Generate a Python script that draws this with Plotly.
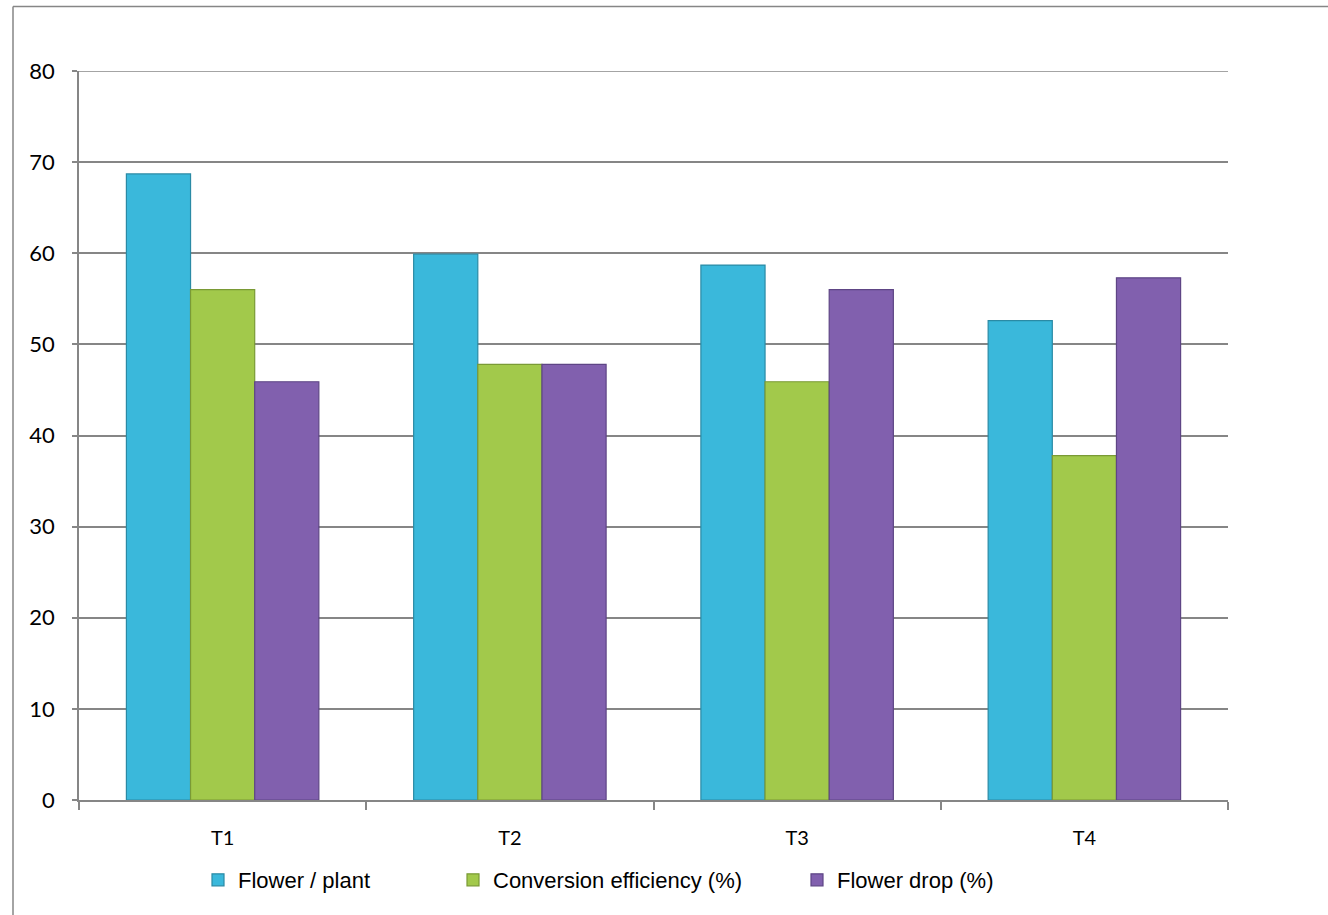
import plotly.graph_objects as go

categories = ["T1", "T2", "T3", "T4"]
flower_per_plant = [68.7, 59.9, 58.7, 52.6]
conversion_eff = [56.0, 47.8, 45.9, 37.8]
flower_drop = [45.9, 47.8, 56.0, 57.3]
series_names = ["Flower / plant", "Conversion efficiency (%)", "Flower drop (%)"]
y_ticks = [0, 10, 20, 30, 40, 50, 60, 70, 80]

W, H = 1328, 915
ml, mr, mt, mb = 79, 100, 71, 115
pw, ph = W - ml - mr, H - mt - mb

colors = ["#3AB8DB", "#A2C94B", "#8160AE"]
lines = ["#2A8AA5", "#7A9A35", "#5E4585"]
legend_ids = ["legend", "legend2", "legend3"]
legend_text_px = [238, 493, 837]


def px_x(p):
    return (p - ml) / pw


def px_y(p):
    return (H - mb - p) / ph


fig = go.Figure()
for name, vals, c, lc, lid in zip(series_names, [flower_per_plant, conversion_eff, flower_drop],
                                  colors, lines, legend_ids):
    fig.add_trace(go.Bar(x=categories, y=vals, name=name, legend=lid,
                         marker=dict(color=c, line=dict(color=lc, width=1.2))))

leg_font = dict(family="Liberation Sans, Arial, sans-serif", size=22, color="black")
legends = {}
for lid, tx in zip(legend_ids, legend_text_px):
    legends[lid] = dict(orientation="h", x=px_x(tx - 40), xanchor="left", y=px_y(880), yanchor="middle",
                        font=leg_font, itemwidth=30, bgcolor="rgba(0,0,0,0)")

fig.update_layout(
    width=W, height=H,
    margin=dict(l=ml, r=mr, t=mt, b=mb),
    paper_bgcolor="white", plot_bgcolor="white",
    barmode="group", bargap=0.33, bargroupgap=0,
    font=dict(family="Lato, Open Sans, sans-serif", size=16, color="black"),
    showlegend=True,
    xaxis=dict(showline=True, linecolor="#868686", linewidth=1.5, ticks="outside",
               tickson="boundaries", ticklen=8, tickcolor="#868686", tickwidth=1.5,
               showgrid=False, tickfont=dict(family="Lato, sans-serif", size=20, color="black"),
               ticklabelstandoff=19),
    yaxis=dict(range=[0, 80], tickvals=y_ticks, showline=True, linecolor="#868686", linewidth=1.5,
               ticks="outside", ticklen=5, tickcolor="#868686", tickwidth=1.5,
               showgrid=True, gridcolor="#868686", gridwidth=1.5, zeroline=False,
               tickfont=dict(family="Lato, sans-serif", size=22, color="black"), ticklabelstandoff=13),
    shapes=[
        dict(type="line", xref="paper", yref="y", x0=0, x1=1, y0=y_ticks[-1], y1=y_ticks[-1],
             line=dict(color="#868686", width=1.5)),
        dict(type="line", xref="paper", yref="paper", x0=px_x(13), x1=px_x(1328), y0=px_y(6.5), y1=px_y(6.5),
             line=dict(color="#868686", width=1.5)),
        dict(type="line", xref="paper", yref="paper", x0=px_x(13), x1=px_x(13), y0=px_y(6.5), y1=px_y(915),
             line=dict(color="#868686", width=1.5)),
    ],
    **legends,
)

fig.write_html("out.html")
